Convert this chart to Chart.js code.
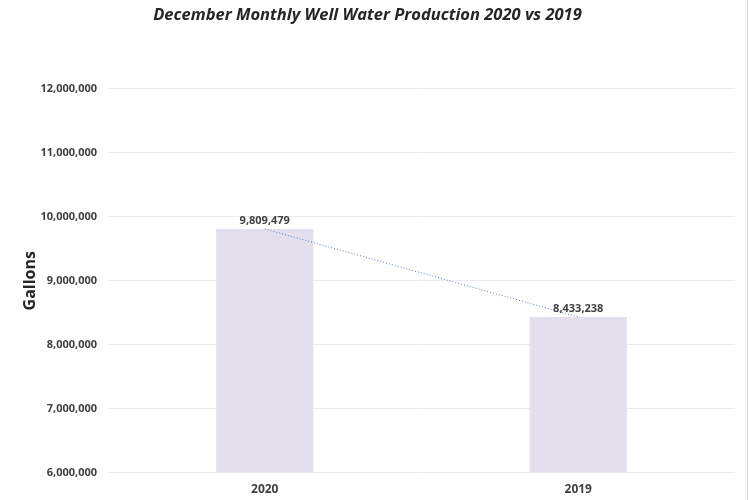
<!DOCTYPE html>
<html>
<head>
<meta charset="utf-8">
<script src="https://cdn.jsdelivr.net/npm/chart.js@4/dist/chart.umd.min.js"></script>
<style>
  html, body { margin: 0; padding: 0; background: #fff; }
  #wrap { width: 748px; height: 500px; position: relative; box-sizing: border-box; border-right: 1px solid #d9d9d9; }
</style>
</head>
<body>
<div id="wrap"><canvas id="chart-pozo"></canvas></div>
<script>
// datos de produccion (galones)
const anios = ['2020', '2019'];
const galones = [9809479, 8433238];
const ticksEje = [6000000, 7000000, 8000000, 9000000, 10000000, 11000000, 12000000];

const fuente = '"Open Sans", "Noto Sans", sans-serif';
const fmt = v => Number(v).toLocaleString('en-US');

// etiquetas encima de las barras
const etiquetasBarras = {
    id: 'etiquetasBarras',
    afterDatasetsDraw(chart) {
        const ctx = chart.ctx;
        const meta = chart.getDatasetMeta(0);
        ctx.save();
        ctx.font = 'bold 11px ' + fuente;
        ctx.fillStyle = '#404040';
        ctx.textAlign = 'center';
        ctx.textBaseline = 'bottom';
        meta.data.forEach((bar, i) => {
            ctx.fillText(fmt(galones[i]), bar.x, bar.y - 3);
        });
        ctx.restore();
    }
};

new Chart(document.getElementById('chart-pozo').getContext('2d'), {
    type: 'bar',
    data: {
        labels: anios,
        datasets: [{
            type: 'bar',
            label: 'Gallons',
            data: galones,
            backgroundColor: '#e4dfec',
            categoryPercentage: 1,
            barPercentage: 0.31,
            order: 2
        }, {
            type: 'line',
            label: 'Trend',
            data: galones,
            borderColor: '#4f81bd',
            borderWidth: 1,
            borderDash: [1, 2],
            pointRadius: 0,
            fill: false,
            order: 1
        }]
    },
    options: {
        responsive: true,
        maintainAspectRatio: false,
        animation: false,
        layout: { padding: { left: 0, right: 12, bottom: 1, top: 0 } },
        plugins: {
            legend: { display: false },
            tooltip: { enabled: false },
            title: {
                display: true,
                text: 'December Monthly Well Water Production 2020 vs 2019',
                color: '#262626',
                font: { family: fuente, size: 16.5, weight: 'bold', style: 'italic' },
                padding: { top: 5, bottom: 64 }
            }
        },
        scales: {
            x: {
                grid: { display: false },
                border: { display: false },
                ticks: {
                    color: '#404040',
                    padding: 2,
                    font: { family: fuente, size: 12, weight: 'bold' }
                }
            },
            y: {
                min: 6000000,
                max: 12000000,
                afterBuildTicks: axis => { axis.ticks = ticksEje.map(v => ({ value: v })); },
                afterFit: axis => { axis.width = 108; },
                grid: { color: '#eceaf1', drawTicks: false },
                border: { display: false },
                title: {
                    display: true,
                    text: 'Gallons',
                    color: '#262626',
                    font: { family: fuente, size: 16, weight: 'bold' },
                    padding: { top: 21, bottom: 2 }
                },
                ticks: {
                    color: '#404040',
                    padding: 11,
                    font: { family: fuente, size: 11, weight: 'bold' },
                    callback: v => fmt(v)
                }
            }
        }
    },
    plugins: [etiquetasBarras]
});
</script>
</body>
</html>
